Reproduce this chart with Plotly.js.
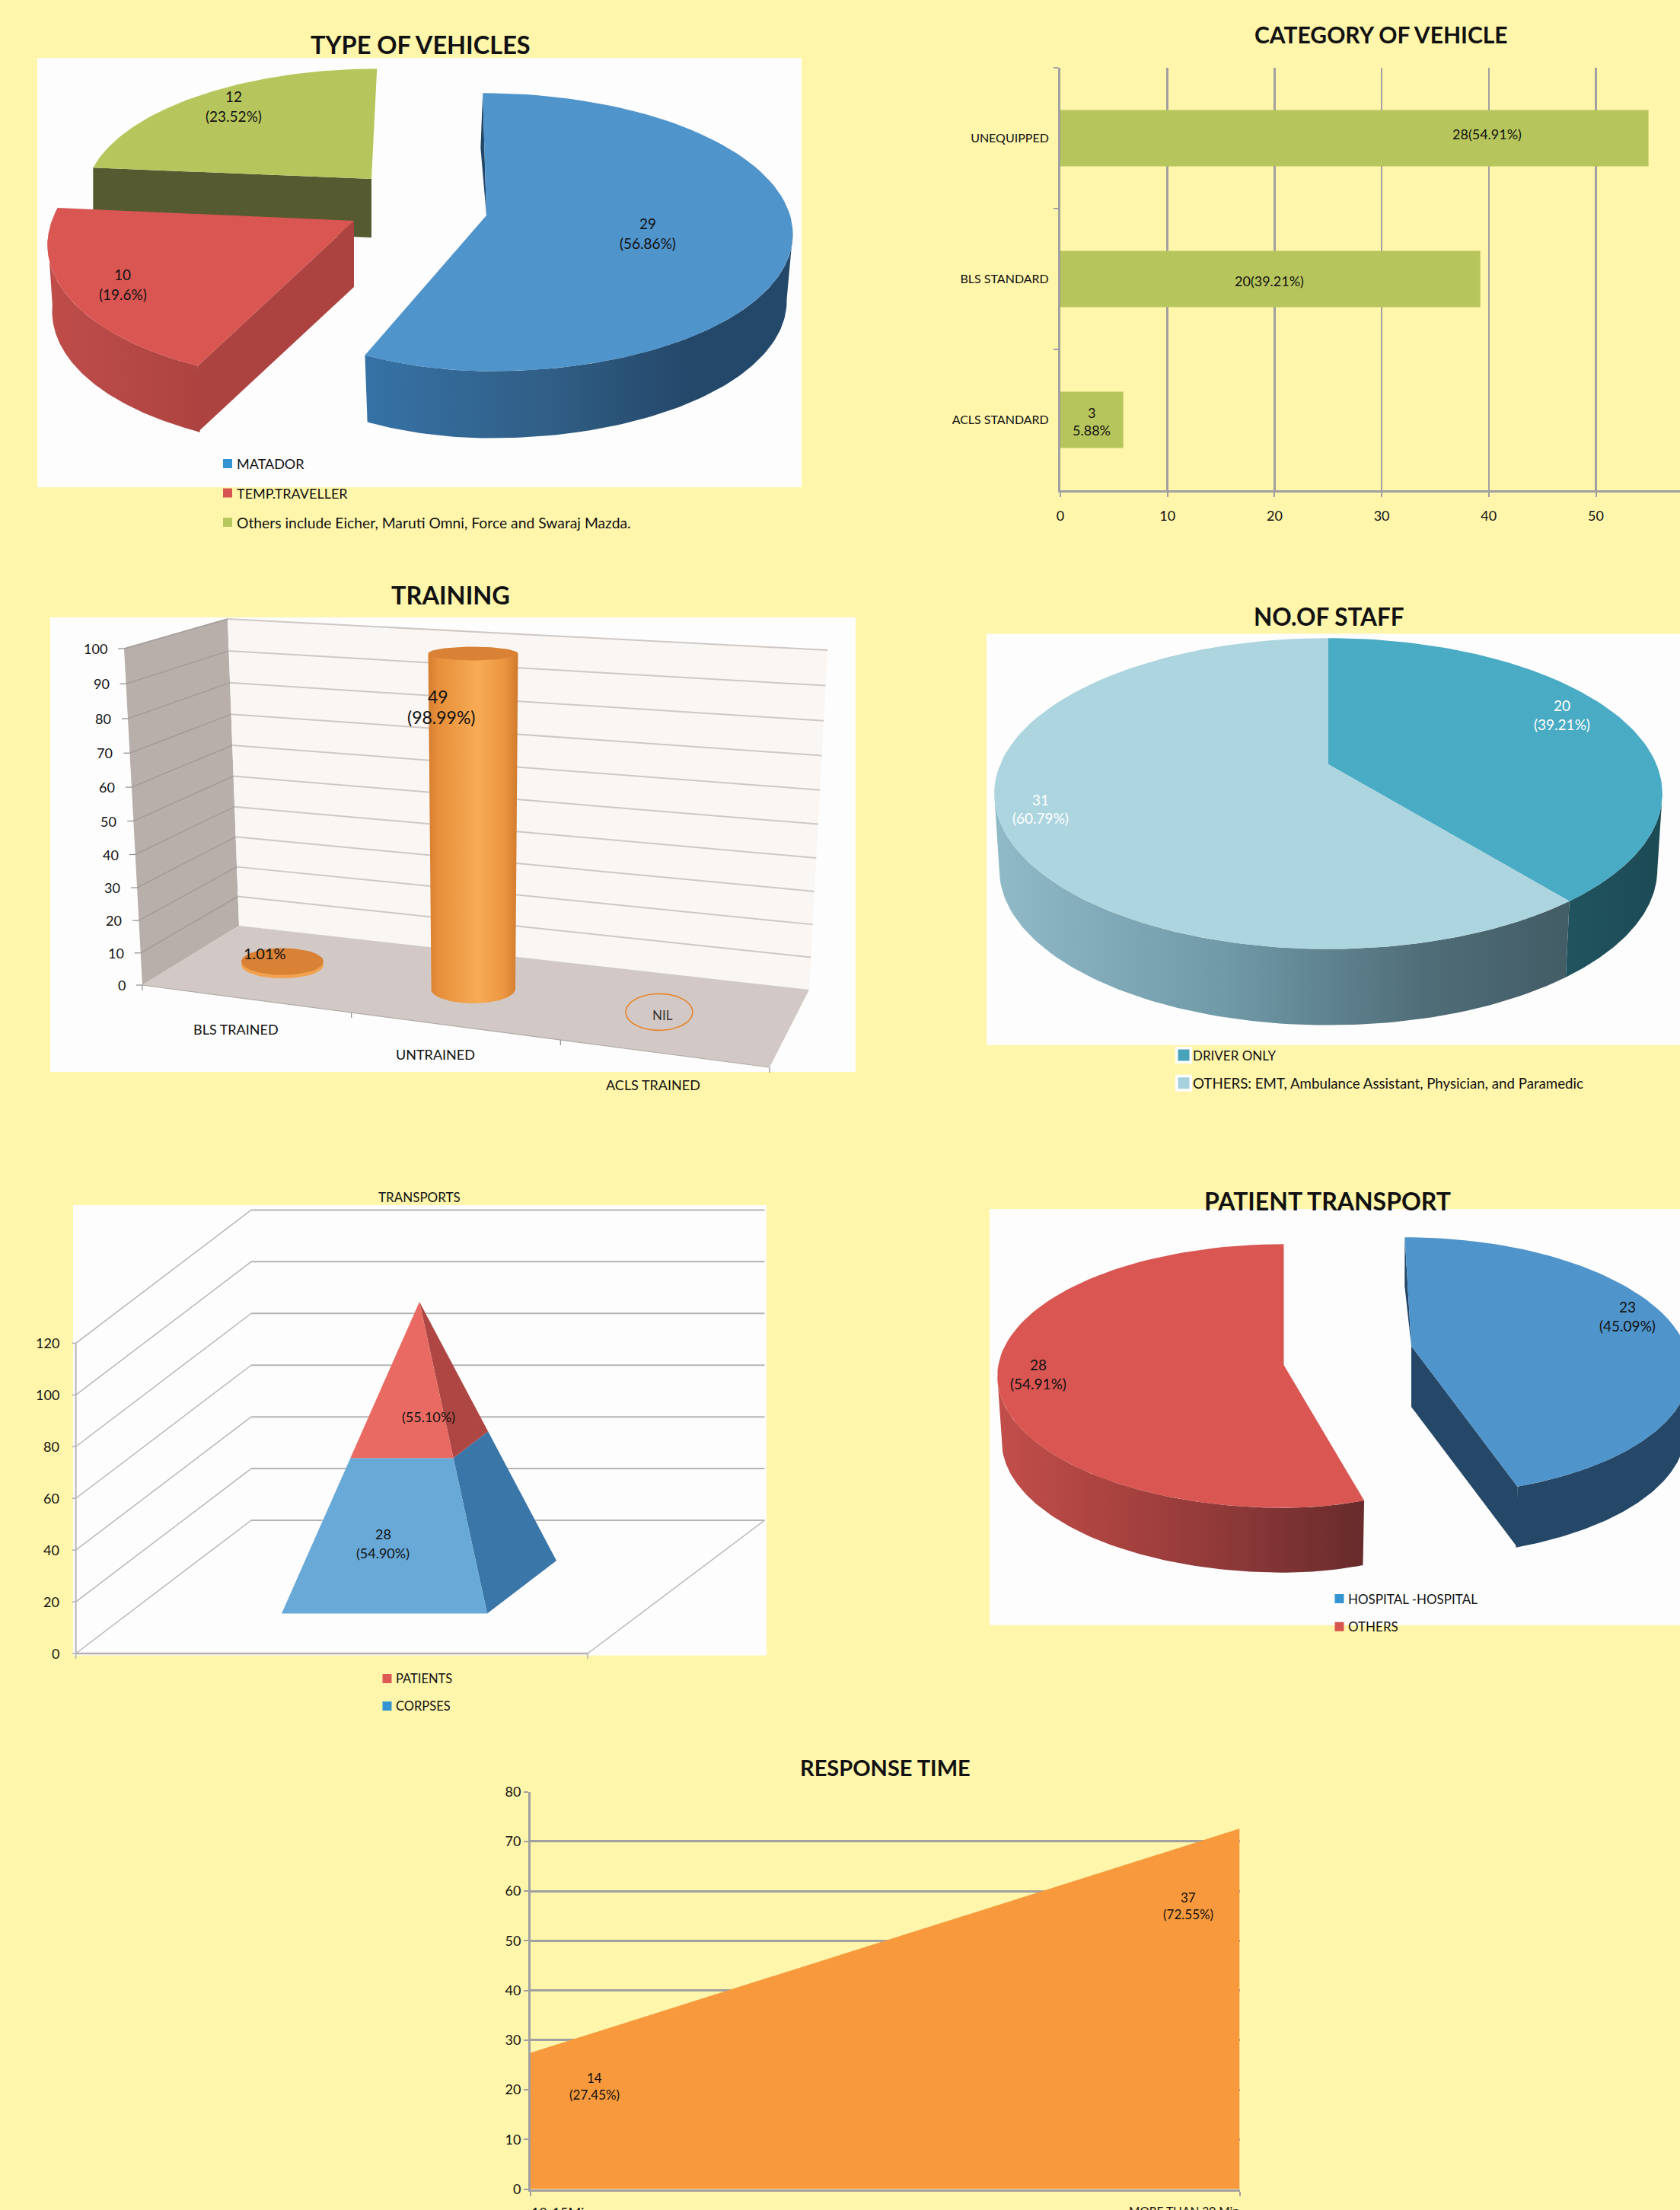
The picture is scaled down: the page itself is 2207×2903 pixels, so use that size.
<!DOCTYPE html>
<html><head><meta charset="utf-8">
<script src="https://cdn.plot.ly/plotly-3.0.1.min.js"></script>
<style>html,body{margin:0;padding:0;background:#fff6ab}#c{width:2207px;height:2903px}</style>
</head><body><div id="c"></div>
<script>
// ---------- data ----------
const vehicleTypes = ['MATADOR','TEMP.TRAVELLER','Others include Eicher, Maruti Omni, Force and Swaraj Mazda.'];
const vehicleCounts = [29,10,12];
const vehiclePct = [56.86,19.6,23.52];
const categoryNames = ['ACLS STANDARD','BLS STANDARD','UNEQUIPPED'];
const categoryPct = [5.88,39.21,54.91];
const categoryTicks = [0,10,20,30,40,50];
const trainingNames = ['BLS TRAINED','UNTRAINED','ACLS TRAINED'];
const trainingPct = [1.01,98.99,0];
const trainingTicks = [0,10,20,30,40,50,60,70,80,90,100];
const staffNames = ['DRIVER ONLY','OTHERS: EMT, Ambulance Assistant, Physician, and Paramedic'];
const staffCounts = [20,31];
const staffPct = [39.21,60.79];
const transportNames = ['PATIENTS','CORPSES'];
const transportPct = [55.10,54.90];
const transportTicks = [0,20,40,60,80,100,120];
const patientNames = ['HOSPITAL -HOSPITAL','OTHERS'];
const patientCounts = [23,28];
const patientPct = [45.09,54.91];
const responseNames = ['10-15Min','MORE THAN 30 Min'];
const responseCounts = [14,37];
const responsePct = [27.45,72.55];
const responseTicks = [0,10,20,30,40,50,60,70,80];

// ---------- helpers ----------
const W=2207,H=2903,FONT='Lato, Carlito, sans-serif';
const traces=[],annos=[],shapes=[];
function poly(pts,color,grad){
  const t={type:'scatter',x:pts.map(p=>p[0]),y:pts.map(p=>p[1]),mode:'lines',fill:'toself',
    line:{width:0,color:'rgba(0,0,0,0)'},hoverinfo:'skip',showlegend:false,xaxis:'x',yaxis:'y'};
  if(grad){t.fillgradient={type:'horizontal',colorscale:grad};t.fillcolor=grad[0][1];}else t.fillcolor=color;
  traces.push(t);
}
function seg(pts,color,width){
  traces.push({type:'scatter',x:pts.map(p=>p[0]),y:pts.map(p=>p[1]),mode:'lines',
    line:{width:width||1.5,color:color},hoverinfo:'skip',showlegend:false,xaxis:'x',yaxis:'y'});
}
function txt(x,y,text,o){o=o||{};
  annos.push({xref:'x',yref:'y',x,y,text:o.bold?'<b>'+text+'</b>':text,showarrow:false,
    xanchor:o.anchor||'center',yanchor:o.ya||'middle',borderpad:0,
    font:{family:FONT,size:o.size||18,color:o.color||'#111'}});
}
function title(x,y,text,size){txt(x,y,text,{bold:true,size,color:'#111'});}
function panel(x0,y0,x1,y1){shapes.push({type:'rect',xref:'x',yref:'y',x0,y0,x1,y1,layer:'below',fillcolor:'#fdfdfd',line:{width:0}});}
function key(x,y,color,label,fs){
  traces.push({type:'scatter',x:[x],y:[y],mode:'markers',marker:{symbol:'square',size:12,color},
    hoverinfo:'skip',showlegend:false,xaxis:'x',yaxis:'y'});
  txt(x+10.5,y,label,{anchor:'left',size:fs||18});
}
// perspective wedge projection; th = degrees clockwise from 12 o'clock
function P(w,th){
  const r=th*Math.PI/180,u=Math.sin(r),v=Math.cos(r),d=1+w.k*v;
  const y=w.cy-w.ry*v/d;
  const x=w.cx+(u>0?w.rxR:w.rxL)*u/d+(w.sh||0)*(y-w.cy);
  return [x,y];
}
function Pb(w,th){const p=P(w,th);return [w.cx+(p[0]-w.cx)*(w.s||1),p[1]+w.depth];}
function arc(f,w,a,b){const n=90,o=[];for(let i=0;i<=n;i++)o.push(f(w,a+(b-a)*i/n));return o;}
function face(w,a,b,color){poly([[w.cx,w.cy],...arc(P,w,a,b)],color);}
function rim(w,a,b,grad){poly([...arc(P,w,a,b),...arc(Pb,w,b,a)],null,grad);}
function radial(w,th,color,d){const q=P(w,th),dd=d||w.depth;poly([[w.cx,w.cy],q,[q[0],q[1]+dd],[w.cx,w.cy+dd]],color);}
function sliver(w,th,color,off){const q=P(w,th);poly([q,[q[0]+(w.cx-q[0])*.45-off,q[1]+(w.cy-q[1])*.45],[w.cx,w.cy]],color);}
function deg(p){return p/100*360;}
function ell(cx,cy,rx,ry,a,b){const n=60,o=[];for(let i=0;i<=n;i++){const t=(a+(b-a)*i/n)*Math.PI/180;o.push([cx+rx*Math.cos(t),cy+ry*Math.sin(t)]);}return o;}
function lerp(a,b,t){return [a[0]+(b[0]-a[0])*t,a[1]+(b[1]-a[1])*t];}
function two(x,y1,y2,a,b,o){txt(x,y1,a,o);txt(x,y2,b,o);}

// ---------- chart 1: type of vehicles ----------
title(552,58,'TYPE OF VEHICLES',32.5);
panel(49,76,1053,640);
{
  const e1=deg(vehiclePct[0]),e2=e1+deg(vehiclePct[1]);
  const g={cx:488,cy:235,rxL:372,rxR:372,ry:162,k:.12,depth:77,sh:-.05};
  radial(g,e2,'#565a30');
  face(g,e2,360,'#b7c65c');
  const r={cx:465,cy:290,rxL:397,rxR:397,ry:187,k:.12,depth:87,s:.985,sh:-.1};
  radial(r,e1,'#ad4340');
  rim(r,e1,263,[[0,'#bf4d4a'],[1,'#ad4340']]);
  face(r,e1,e2,'#d95652');
  const b={cx:639,cy:283,rxL:352,rxR:399,ry:180,k:.12,depth:88,s:.98,sh:.03};
  rim(b,97,e1,[[0,'#3672a6'],[.45,'#305d84'],[.75,'#24486a'],[1,'#24486a']]);
  sliver(b,0,'#24486a',5);
  face(b,0,e1,'#4f94cb');
}
two(851,293,319,String(vehicleCounts[0]),'('+vehiclePct[0]+'%)',{size:19});
two(161,360,386,String(vehicleCounts[1]),'('+vehiclePct[1]+'%)',{size:19});
two(307,126,152,String(vehicleCounts[2]),'('+vehiclePct[2]+'%)',{size:19});
key(299,609,'#3494d1',vehicleTypes[0]);
key(299,647.5,'#d75550',vehicleTypes[1]);
key(299,686,'#b5c85c',vehicleTypes[2],19.3);

// ---------- chart 2: category of vehicle (real axes) ----------
title(1814,45,'CATEGORY OF VEHICLE',30);
traces.push({type:'bar',orientation:'h',y:categoryNames,x:categoryPct,marker:{color:'#b7c65c'},
  width:.4,hoverinfo:'skip',showlegend:false,xaxis:'x2',yaxis:'y2'});
txt(1953.6,176,'28(54.91%)',{size:18});
txt(1667,369,'20(39.21%)',{size:18});
two(1434,542,565,'3','5.88%',{size:18});

// ---------- chart 3: training ----------
title(592,781.5,'TRAINING',32.5);
panel(66,811,1124,1408);
{
  const F0=[187,1294],F1=[163,852],B0=[314,1216],B1=[299,813],R1=[1087,854],R0=[1063,1300],FR=[1011,1402];
  poly([F0,F1,B1,B0],'#b8afab');
  poly([B0,B1,R1,R0],'#f9f6f3');
  poly([F0,B0,R0,FR],'#d2c9c6');
  trainingTicks.forEach(v=>{
    const f=v/100,t=f-.05*f*(1-f),a=lerp(F0,F1,t),b=lerp(B0,B1,t),c=lerp(R0,R1,t);
    if(v>0){seg([a,b],'#a19b99',1.5);seg([b,c],'#cfc8c5',2);}
    seg([[a[0]-8,a[1]],a],'#8c8c8c',1.2);
    txt(a[0]-21,a[1],String(v),{anchor:'right',size:18});
  });
  seg([F0,FR],'#b0aaa8',1.2);
  [0,1/3,2/3,1].forEach(t=>{const p=lerp(F0,FR,t);seg([p,[p[0],p[1]+7]],'#8c8c8c',1.2);});
  const unit=(858.5-1299)/trainingPct[1];
  // BLS disc
  const by=1267.5,ty=by+unit*trainingPct[0];
  poly(ell(371,by,54,17.7,0,360),'#f2a24f');
  poly(ell(371,ty,54,17.7,0,360),'#d98135');
  // UNTRAINED cylinder
  const cy=1299,tp=cy+unit*trainingPct[1];
  poly([[562.5,tp],...ell(621.5,cy,55.5,19,180,0),[680.5,tp]],null,[[0,'#d67e30'],[.12,'#e78f3b'],[.55,'#f8ab54'],[.85,'#ec9540'],[1,'#cf7a2c']]);
  poly(ell(621.5,tp,59,9,0,360),'#d98135');
  // ACLS: nil
  seg(ell(866,1329.4,44,24,0,360),'#e8842c',1.6);
}
txt(870.5,1333,'NIL',{size:17,color:'#333'});
txt(575,915,'49',{size:23});txt(580,942,'('+trainingPct[1]+'%)',{size:23});
txt(348,1252,trainingPct[0]+'%',{size:20});
txt(310,1351.6,trainingNames[0]);txt(572,1385,trainingNames[1]);txt(858,1425,trainingNames[2]);

// ---------- chart 4: no. of staff ----------
title(1745.6,810,'NO.OF STAFF',31.5);
panel(1296,832.5,2207,1372.7);
{
  const e=deg(staffPct[0]);
  const w={cx:1745,cy:1004,rxL:431,rxR:431,ry:197,k:.188,depth:100,s:.985};
  rim(w,101,e,[[0,'#20545f'],[1,'#1c4a55']]);
  rim(w,e,259,[[0,'#90bac8'],[.4,'#709aa8'],[.75,'#4f6d78'],[1,'#435c66']]);
  face(w,0,e,'#4aabc4');
  face(w,e,360,'#acd5df');
}
two(2052,926,951,String(staffCounts[0]),'('+staffPct[0]+'%)',{size:19,color:'#fff'});
two(1366.6,1050,1074,String(staffCounts[1]),'('+staffPct[1]+'%)',{size:19,color:'#fff'});
[[1386,'#47a2ba',0,17],[1422.7,'#a6d0dc',1,18.7]].forEach(([y,c,i,fs])=>{
  traces.push({type:'scatter',x:[1555],y:[y],mode:'markers',marker:{symbol:'square',size:22,color:'#fff'},hoverinfo:'skip',showlegend:false,xaxis:'x',yaxis:'y'});
  traces.push({type:'scatter',x:[1555],y:[y],mode:'markers',marker:{symbol:'square',size:15,color:c},hoverinfo:'skip',showlegend:false,xaxis:'x',yaxis:'y'});
  txt(1566,y,staffNames[i],{anchor:'left',size:fs});
});

// ---------- chart 5: transports ----------
txt(551,1572,'TRANSPORTS',{size:17});
panel(96,1583,1007,2174.5);
{
  const FX=99.6,RX=1004.5,Y0=2172,yU=(2172-1764.4)/transportTicks[6],DX=230.4,DY=175;
  const gl='#b4b4b4';
  transportTicks.forEach(v=>{
    const f=[FX,Y0-v*yU],b=[FX+DX,Y0-v*yU-DY],r=[RX,Y0-v*yU-DY];
    seg([f,b],gl,1.4);seg([b,r],gl,2);
    seg([[FX-5,f[1]],f],gl,1.6);
    txt(79,f[1],String(v),{anchor:'right',size:18});
  });
  seg([[FX,Y0],[FX,Y0-120*yU]],gl,2);
  seg([[FX,Y0],[772,Y0]],gl,2.4);
  seg([[772,Y0],[RX,Y0-DY]],gl,1.4);
  seg([[FX,Y0],[FX,Y0+7]],gl,1.6);seg([[772,Y0],[772,Y0+7]],gl,1.6);
  // pyramid: blue stack first, red stack on top, split from values
  const A=[551,1710],BL=[370,2119.6],BR=[640,2119.6],BK=[731,2050];
  const t=transportPct[1]/(transportPct[0]+transportPct[1]);
  const L=lerp(BL,A,t),M=lerp(BR,A,t),K=lerp(BK,A,t);
  poly([BR,BK,K,M],'#3a76a8');
  poly([BL,BR,M,L],'#68a9d8');
  poly([M,K,A],'#ae4743');
  poly([L,M,A],'#e96a62');
}
two(503,2015,2039.5,'28','('+transportPct[1].toFixed(2)+'%)',{size:18});
txt(563,1861,'('+transportPct[0].toFixed(2)+'%)',{size:18});
key(508.5,2205,'#dd5a55',transportNames[0],16.5);
key(508.5,2241,'#3494d1',transportNames[1],16.5);

// ---------- chart 6: patient transport ----------
panel(1300,1588,2207,2134.7);
title(1744,1577.5,'PATIENT TRANSPORT',32);
{
  const e=deg(patientPct[0]);
  const r={cx:1686.5,cy:1793,rxL:375,rxR:320,ry:172,k:.0835,depth:85,s:.985};
  rim(r,e,265,[[0,'#c24e4a'],[.3,'#ab4340'],[.65,'#8c3838'],[1,'#682b2b']]);
  face(r,e,360,'#d95652');
  const b={cx:1854,cy:1768,rxL:360,rxR:360,ry:165,k:.156,depth:80,s:.985,sh:.06};
  radial(b,e,'#254868');
  rim(b,98,e,[[0,'#254868'],[1,'#254868']]);
  sliver(b,0,'#254868',4);
  face(b,0,e,'#4f94cb');
}
two(2137.7,1716,1741,String(patientCounts[0]),'('+patientPct[0]+'%)',{size:19});
two(1364,1792,1817,String(patientCounts[1]),'('+patientPct[1]+'%)',{size:19});
key(1759.5,2100,'#3494d1',patientNames[0],17);
key(1759.5,2136.7,'#d75550',patientNames[1],17);

// ---------- chart 7: response time (real axes) ----------
title(1163,2321,'RESPONSE TIME',29);
traces.push({type:'scatter',x:[0,1],y:responsePct,mode:'lines',fill:'tozeroy',fillcolor:'#f7993c',
  line:{width:0,color:'#f7993c'},hoverinfo:'skip',showlegend:false,xaxis:'x3',yaxis:'y3'});
two(780.7,2729,2751,String(responseCounts[0]),'('+responsePct[0]+'%)',{size:17});
two(1561,2492,2514.4,String(responseCounts[1]),'('+responsePct[1]+'%)',{size:17});
txt(697,2894,responseNames[0],{anchor:'left',ya:'top',size:18});
txt(1628.5,2894,responseNames[1],{anchor:'right',ya:'top',size:15.5});

// ---------- layout ----------
const grey='#a0a0a0';
const layout={
  width:W,height:H,margin:{l:0,r:0,t:0,b:0},paper_bgcolor:'#fff6ab',plot_bgcolor:'rgba(0,0,0,0)',
  showlegend:false,font:{family:FONT,size:18,color:'#111'},shapes,annotations:annos,
  xaxis:{domain:[0,1],range:[0,W],visible:false,fixedrange:true,anchor:'y'},
  yaxis:{domain:[0,1],range:[H,0],visible:false,fixedrange:true,anchor:'x'},
  xaxis2:{domain:[1393/W,1],range:[0,(W-1393)/14.07],anchor:'y2',tickvals:categoryTicks,
    showgrid:true,gridcolor:grey,gridwidth:2.5,showline:true,linecolor:grey,linewidth:3,
    ticks:'outside',ticklen:6,tickcolor:grey,tickwidth:2,ticklabelstandoff:9,tickfont:{family:FONT,size:18,color:'#111'},zeroline:false,fixedrange:true},
  yaxis2:{domain:[1-644/H,1-89/H],type:'category',categoryorder:'array',categoryarray:categoryNames,anchor:'x2',
    tickson:'boundaries',showgrid:false,showline:true,linecolor:grey,linewidth:3,
    ticks:'outside',ticklen:6,tickcolor:grey,tickwidth:2,ticklabelstandoff:9,tickfont:{family:FONT,size:16,color:'#111'},fixedrange:true},
  xaxis3:{domain:[697/W,1628.5/W],range:[0,1],anchor:'y3',tickvals:[0,1],showticklabels:false,showgrid:false,
    showline:true,linecolor:grey,linewidth:3,ticks:'outside',ticklen:6,tickcolor:grey,tickwidth:2,zeroline:false,fixedrange:true},
  yaxis3:{domain:[1-2875.6/H,1-2353.5/H],range:[0,80],anchor:'x3',tickvals:responseTicks,
    showgrid:true,gridcolor:grey,gridwidth:3,showline:true,linecolor:grey,linewidth:3,zeroline:false,
    ticks:'outside',ticklen:6,tickcolor:grey,tickwidth:2,tickfont:{family:FONT,size:18,color:'#111'},fixedrange:true}
};
Plotly.newPlot('c',traces,layout,{displayModeBar:false,staticPlot:true});
</script></body></html>
